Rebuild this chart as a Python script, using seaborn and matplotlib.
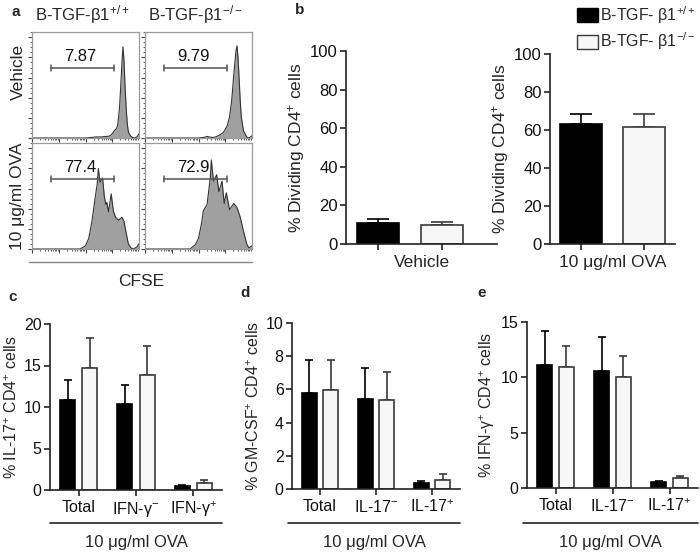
import numpy as np
import pandas as pd
import matplotlib
matplotlib.use("Agg")
import matplotlib.pyplot as plt
from matplotlib.lines import Line2D
from matplotlib.patches import Patch
import seaborn as sns

# ---------------------------------------------------------------------------
# DATA
# ---------------------------------------------------------------------------
genotypes = ["B-TGF-β1$^{+/+}$", "B-TGF-β1$^{-/-}$"]
legend_labels = ["B-TGF- β1$^{+/+}$", "B-TGF- β1$^{-/-}$"]

# panel a: CFSE histograms (channel 0-100, normalised count)
tl_x = [0, 50, 55, 60, 65, 70, 73, 75, 77, 79, 80, 81, 82, 83, 84, 85, 86, 87, 88, 89, 90, 92, 94, 96, 98, 100]
tl_y = [0, 0, 0.005, 0.01, 0.01, 0.015, 0.02, 0.04, 0.07, 0.09, 0.12, 0.2, 0.32, 0.5, 0.7, 0.86, 0.72, 0.48,
        0.28, 0.14, 0.06, 0.02, 0.005, 0, 0.01, 0.04]
tr_x = [0, 50, 55, 58, 60, 63, 66, 70, 73, 75, 77, 79, 81, 83, 85, 86, 87, 88, 89, 90, 92, 95, 97, 100]
tr_y = [0, 0, 0.005, 0.015, 0.01, 0.005, 0.01, 0.03, 0.05, 0.08, 0.12, 0.2, 0.35, 0.6, 0.82, 0.87, 0.75, 0.55,
        0.35, 0.2, 0.07, 0.01, 0, 0.02]
bl_x = [0, 45, 50, 53, 56, 59, 61, 62, 63.5, 66, 67.5, 69, 70, 71.5, 74, 76, 78, 81, 84, 86, 88, 90, 92.5, 95, 98, 100]
bl_y = [0, 0, 0.03, 0.1, 0.26, 0.48, 0.62, 0.76, 0.63, 0.67, 0.5, 0.42, 0.44, 0.35, 0.52, 0.36, 0.3, 0.27,
        0.3, 0.26, 0.15, 0.05, 0.01, 0, 0.02, 0.05]
br_x = [0, 42, 47, 50, 53, 54.5, 58, 61, 62, 64, 67, 69, 72, 74, 76, 79, 83, 86, 89, 92, 95, 97, 100]
br_y = [0, 0, 0.04, 0.1, 0.25, 0.36, 0.42, 0.67, 0.84, 0.64, 0.7, 0.54, 0.64, 0.43, 0.53, 0.37, 0.43, 0.39,
        0.3, 0.17, 0.05, 0.01, 0.03]
gate_values = ["7.87", "9.79", "77.4", "72.9"]

# panel b: % dividing CD4+ cells
b_vehicle_mean = [11.0, 9.9]
b_vehicle_sem = [1.8, 1.6]
b_ova_mean = [63.0, 61.8]
b_ova_sem = [5.5, 6.7]

# panel c: % IL-17+ CD4+ cells
c_groups = ["Total", "IFN-γ$^{-}$", "IFN-γ$^{+}$"]
c_wt = [10.9, 10.4, 0.5]
c_wt_sem = [2.3, 2.3, 0.15]
c_ko = [14.7, 13.8, 0.9]
c_ko_sem = [3.6, 3.5, 0.25]

# panel d: % GM-CSF+ CD4+ cells
d_groups = ["Total", "IL-17$^{-}$", "IL-17$^{+}$"]
d_wt = [5.8, 5.45, 0.35]
d_wt_sem = [2.0, 1.85, 0.15]
d_ko = [5.95, 5.35, 0.55]
d_ko_sem = [1.85, 1.7, 0.35]

# panel e: % IFN-g+ CD4+ cells
e_groups = ["Total", "IL-17$^{-}$", "IL-17$^{+}$"]
e_wt = [11.1, 10.6, 0.5]
e_wt_sem = [3.1, 3.0, 0.15]
e_ko = [10.95, 10.05, 0.9]
e_ko_sem = [1.9, 1.85, 0.2]

# ---------------------------------------------------------------------------
# STYLE
# ---------------------------------------------------------------------------
sns.set_theme(style="ticks")
plt.rcParams["font.family"] = ["Liberation Sans", "DejaVu Sans"]
plt.rcParams["mathtext.default"] = "regular"

BLACK = "#000000"
WHITE = "#f7f7f7"
EDGE_W = "#3a3a3a"
AXC = "#222222"
W, H = 700, 552

fig = plt.figure(figsize=(W / 100, H / 100), dpi=100)


def px_axes(x0, y0, x1, y1):
    return fig.add_axes([x0 / W, 1 - y1 / H, (x1 - x0) / W, (y1 - y0) / H])


def fig_text(x, y, s, **kw):
    fig.text(x / W, 1 - y / H, s, **kw)


def fig_line(x0, x1, y, color=AXC, lw=1.2):
    fig.add_artist(Line2D([x0 / W, x1 / W], [1 - y / H, 1 - y / H], color=color, lw=lw))


# ---------------------------------------------------------------------------
# PANEL a — CFSE histograms
# ---------------------------------------------------------------------------
hists = [(tl_x, tl_y), (tr_x, tr_y), (bl_x, bl_y), (br_x, br_y)]
boxes = [(32, 32, 139, 138), (145, 32, 252, 138), (32, 143, 139, 249), (145, 143, 252, 249)]
minor_x = [d * 25 + np.log10(k) * 25 for d in range(4) for k in range(2, 10)]

for (hx, hy), box, gate in zip(hists, boxes, gate_values):
    ax = px_axes(*box)
    ax.fill_between(hx, hy, color="#a0a0a0", lw=0)
    sns.lineplot(x=hx, y=hy, ax=ax, color="#333333", lw=0.8, sort=False)
    ax.set_xlim(0, 100)
    ax.set_ylim(0, 1)
    ax.plot([18, 77], [0.66, 0.66], color="#555555", lw=1.1)
    ax.plot([18, 18], [0.63, 0.69], color="#555555", lw=1.1)
    ax.plot([77, 77], [0.63, 0.69], color="#555555", lw=1.1)
    ax.text(45, 0.7, gate, ha="center", va="bottom", fontsize=12, color="#111111")
    for sp in ax.spines.values():
        sp.set_visible(True)
        sp.set_color("#999999")
        sp.set_linewidth(0.9)
    ax.set_xticks([0, 25, 50, 75])
    ax.set_xticks(minor_x, minor=True)
    ax.set_yticks(np.arange(0, 1.01, 0.19))
    ax.set_yticks(np.arange(0, 1.01, 0.0475), minor=True)
    ax.tick_params(which="major", direction="out", length=3, width=0.8, color="#444444",
                   labelbottom=False, labelleft=False)
    ax.tick_params(which="minor", direction="out", length=1.5, width=0.6, color="#444444")
    ax.set_xlabel("")
    ax.set_ylabel("")

fig_text(82, 15, genotypes[0], ha="center", va="center", fontsize=12)
fig_text(195, 15, genotypes[1], ha="center", va="center", fontsize=12)
fig_text(18, 72, "Vehicle", ha="center", va="center", rotation=90, fontsize=12.5)
fig_text(18, 196, "10 μg/ml OVA", ha="center", va="center", rotation=90, fontsize=12.5)
fig_line(29, 252, 262, color="#888888", lw=1.0)
fig_text(141, 281, "CFSE", ha="center", va="center", fontsize=12.5)


# ---------------------------------------------------------------------------
# BAR HELPERS
# ---------------------------------------------------------------------------
def style_bar_axes(ax, fs):
    sns.despine(ax=ax)
    for sp in ["left", "bottom"]:
        ax.spines[sp].set_color(AXC)
        ax.spines[sp].set_linewidth(1.2)
    ax.tick_params(direction="out", length=4, width=1.2, color=AXC, labelsize=fs,
                   labelcolor="#111111", pad=2)


def draw_err(ax, bars, sems, colors, capsize):
    for bar, s, c in zip(bars, sems, colors):
        x = bar.get_x() + bar.get_width() / 2
        ax.errorbar(x, bar.get_height(), yerr=[[0], [s]], fmt="none", ecolor=c,
                    elinewidth=1.2, capsize=capsize, capthick=1.2, zorder=1)


def pair_panel(ax, means, sems, xlabel):
    sns.barplot(x=[0, 1], y=means, hue=[0, 1], palette=[BLACK, WHITE], width=0.67,
                saturation=1, legend=False, ax=ax, zorder=2)
    bars = sorted([b for cont in ax.containers for b in cont if np.isfinite(b.get_height())],
                  key=lambda b: b.get_x())
    for b, ec in zip(bars, [BLACK, EDGE_W]):
        b.set_edgecolor(ec)
        b.set_linewidth(1.2)
    draw_err(ax, bars, sems, [BLACK, EDGE_W], 8)
    ax.set_ylim(0, 100)
    ax.set_yticks([0, 20, 40, 60, 80, 100])
    ax.set_xticks([0, 1])
    ax.set_xticklabels(["", ""])
    ax.set_xlabel(xlabel, fontsize=12.5, labelpad=2)
    ax.set_ylabel("% Dividing CD4$^{+}$ cells", fontsize=12.5, labelpad=2)
    style_bar_axes(ax, 12)


def group_panel(ax, groups, wt, wt_sem, ko, ko_sem, ylim, yticks, ylabel):
    df = pd.DataFrame({
        "group": groups * 2,
        "genotype": ["wt"] * len(groups) + ["ko"] * len(groups),
        "value": wt + ko,
    })
    sns.barplot(data=df, x="group", y="value", hue="genotype", palette=[BLACK, WHITE],
                width=0.77, gap=0.32, saturation=1, errorbar=None, legend=False, ax=ax, zorder=2)
    for cont, ec, sems in zip(ax.containers, [BLACK, EDGE_W], [wt_sem, ko_sem]):
        for b in cont:
            b.set_edgecolor(ec)
            b.set_linewidth(1.2)
        draw_err(ax, list(cont), sems, [ec] * len(sems), 2.9)
    ax.set_ylim(*ylim)
    ax.set_yticks(yticks)
    ax.set_xlim(-0.5, 2.5)
    ax.set_xlabel("")
    ax.set_ylabel(ylabel, fontsize=11.5, labelpad=3)
    style_bar_axes(ax, 11.5)
    ax.tick_params(axis="x", labelsize=11.5, pad=3)


# ---------------------------------------------------------------------------
# PANEL b
# ---------------------------------------------------------------------------
ax_b1 = px_axes(346, 51, 497, 244)
pair_panel(ax_b1, b_vehicle_mean, b_vehicle_sem, "Vehicle")
ax_b1.set_xlim(-0.5, 1.86)

ax_b2 = px_axes(550, 54, 675, 244)
pair_panel(ax_b2, b_ova_mean, b_ova_sem, "10 μg/ml OVA")
ax_b2.set_xlim(-0.5, 1.5)

handles = [Patch(facecolor=BLACK, edgecolor=BLACK), Patch(facecolor=WHITE, edgecolor=EDGE_W)]
fig.legend(handles, legend_labels, loc="upper left", bbox_to_anchor=(577 / W, 1 - 4 / H),
           frameon=False, fontsize=11.5, handlelength=1.3, handleheight=0.95,
           handletextpad=0.15, labelspacing=0.3, borderaxespad=0, borderpad=0)

# ---------------------------------------------------------------------------
# PANELS c, d, e
# ---------------------------------------------------------------------------
ax_c = px_axes(50, 324, 222, 490)
group_panel(ax_c, c_groups, c_wt, c_wt_sem, c_ko, c_ko_sem, (0, 20), [0, 5, 10, 15, 20],
            "% IL-17$^{+}$ CD4$^{+}$ cells")
ax_d = px_axes(292, 323, 460, 489)
group_panel(ax_d, d_groups, d_wt, d_wt_sem, d_ko, d_ko_sem, (0, 10), [0, 2, 4, 6, 8, 10],
            "% GM-CSF$^{+}$ CD4$^{+}$ cells")
ax_e = px_axes(527, 322, 698, 488)
group_panel(ax_e, e_groups, e_wt, e_wt_sem, e_ko, e_ko_sem, (0, 15), [0, 5, 10, 15],
            "% IFN-γ$^{+}$ CD4$^{+}$ cells")

for x0, x1 in [(50, 222), (288, 460), (523, 698)]:
    fig_line(x0, x1, 523)
    fig_text((x0 + x1) / 2, 543, "10 μg/ml OVA", ha="center", va="center", fontsize=12)

# panel letters
for letter, x, y in [("a", 16, 12), ("b", 300, 10), ("c", 13, 297), ("d", 245, 293), ("e", 482, 293)]:
    fig_text(x, y, letter, ha="center", va="center", fontsize=11, fontweight="bold")

fig.savefig("out.png", dpi=100)
